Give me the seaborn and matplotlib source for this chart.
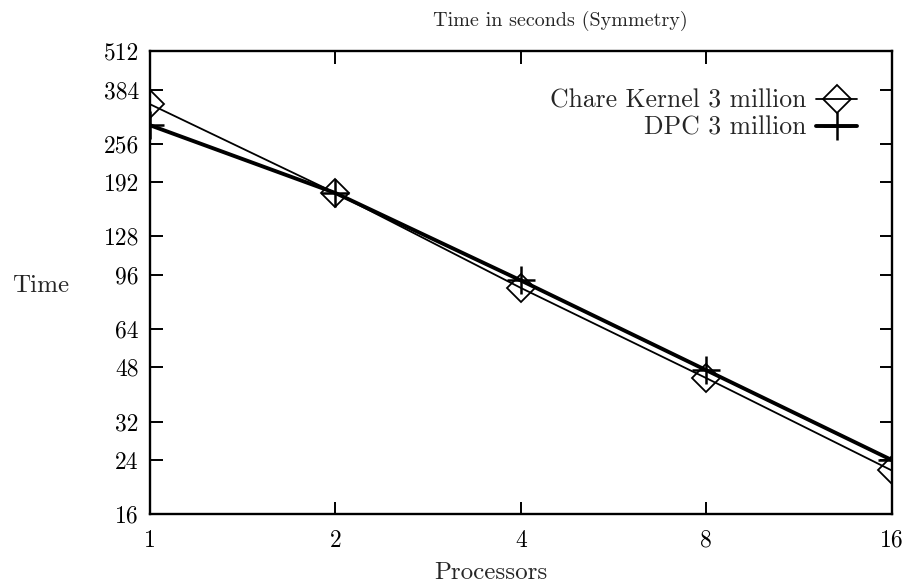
import pandas as pd
import seaborn as sns
import matplotlib.pyplot as plt
from matplotlib.ticker import FixedLocator, NullLocator

processors = [1, 2, 4, 8, 16]
chare_kernel = [344, 177, 87, 44.3, 22.2]
dpc = [294, 177, 92, 47, 24]
y_ticks = [16, 24, 32, 48, 64, 96, 128, 192, 256, 384, 512]

df = pd.DataFrame({'Processors': processors + processors,
                   'Time': chare_kernel + dpc,
                   'series': ['Chare Kernel 3 million'] * 5 + ['DPC 3 million'] * 5})

sns.set_style('ticks')
plt.rcParams['font.family'] = 'serif'
plt.rcParams['font.serif'] = ['cmr10', 'DejaVu Serif']
plt.rcParams['axes.formatter.use_mathtext'] = True

fig = plt.figure(figsize=(9.09, 5.87), dpi=100)
ax = fig.add_axes([0.165, 0.124, 0.816, 0.789])

sns.lineplot(data=df[df.series == 'Chare Kernel 3 million'], x='Processors', y='Time',
             color='black', linewidth=1.3, marker='D', markersize=14,
             markerfacecolor='none', markeredgecolor='black', markeredgewidth=1.3,
             label='Chare Kernel 3 million', ax=ax)
sns.lineplot(data=df[df.series == 'DPC 3 million'], x='Processors', y='Time',
             color='black', linewidth=2.8, marker='+', markersize=20,
             markeredgecolor='black', markeredgewidth=1.8,
             label='DPC 3 million', ax=ax)

ax.set_xscale('log', base=2)
ax.set_yscale('log', base=2)
ax.set_xlim(1, 16)
ax.set_ylim(16, 512)
ax.xaxis.set_major_locator(FixedLocator(processors))
ax.yaxis.set_major_locator(FixedLocator(y_ticks))
ax.xaxis.set_minor_locator(NullLocator())
ax.yaxis.set_minor_locator(NullLocator())
ax.set_xticklabels([str(p) for p in processors])
ax.set_yticklabels([str(t) for t in y_ticks])
ax.tick_params(direction='in', length=9, width=1.4, labelsize=17,
               top=True, right=True, colors='black')
ax.tick_params(axis='x', pad=11)
ax.tick_params(axis='y', pad=8)
for s in ax.spines.values():
    s.set_linewidth(1.7)
    s.set_color('black')

ax.set_title('Time in seconds (Symmetry)', fontsize=14.5, x=0.553, pad=18)
ax.set_xlabel('Processors', fontsize=18, va='center')
ax.xaxis.set_label_coords(0.46, -0.127)
ax.set_ylabel('Time', fontsize=18, rotation=0, va='center', ha='center')
ax.yaxis.set_label_coords(-0.148, 0.492)

ax.legend(loc='upper right', bbox_to_anchor=(0.985, 0.968), frameon=False,
          markerfirst=False, fontsize=18.5, handlelength=1.6, handletextpad=0.4,
          labelspacing=0.12)

fig.savefig('out.png', dpi=100)
